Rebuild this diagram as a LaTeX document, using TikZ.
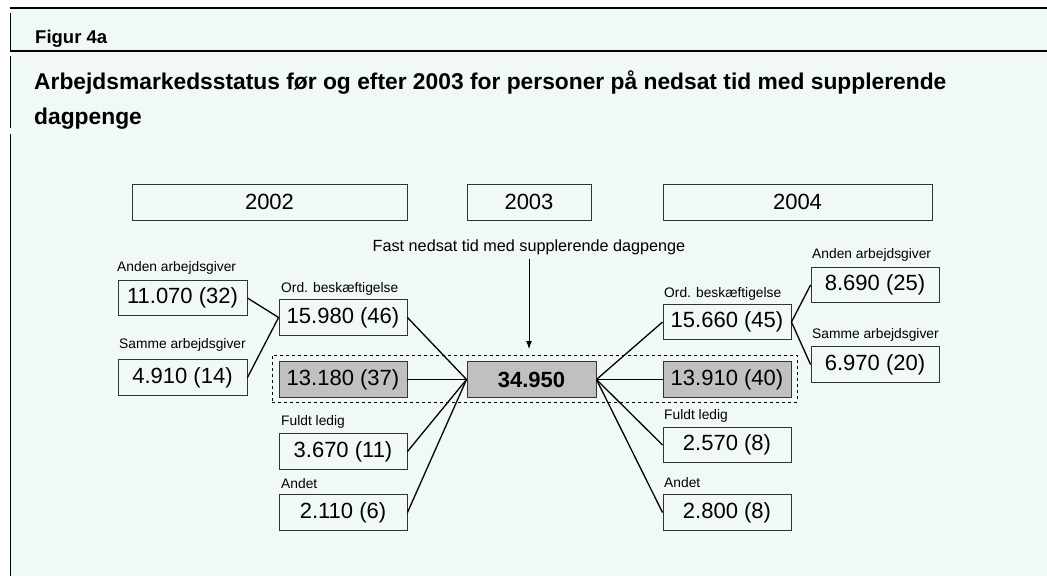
\documentclass[tikz,border=0pt]{standalone}
\usepackage{fontspec}
\setmainfont{Liberation Sans}
\usetikzlibrary{arrows.meta}
\definecolor{mint}{RGB}{241,249,246}
\definecolor{boxgray}{RGB}{192,192,192}
\tikzset{
  numbox/.style={draw=black!80, line width=0.9pt, minimum width=128pt, minimum height=35.5pt,
    inner sep=0pt, font=\fontsize{22}{26}\selectfont},
  graybox/.style={numbox, fill=boxgray},
  yearbox/.style={numbox, minimum height=36pt},
  smalllabel/.style={anchor=west, inner sep=0pt, font=\fontsize{13.8}{16}\selectfont},
  titletext/.style={anchor=base west, inner sep=0pt, font=\bfseries\fontsize{22.8}{26}\selectfont},
  conn/.style={line width=1.3pt, black},
  rule/.style={line width=1.4pt, black},
}
\begin{document}
\begin{tikzpicture}[x=1pt,y=-1pt]
\useasboundingbox (0,0) rectangle (1047,576);
\fill[white] (0,0) rectangle (1047,576);
\fill[mint] (10.5,8) rectangle (1047,576);
% frame rules
\draw[rule] (10,8) -- (1047,8);
\draw[rule] (10,51) -- (1047,51);
\draw[rule] (10.5,13) -- (10.5,51);
\draw[rule] (10.5,56) -- (10.5,128);
\draw[rule] (10.5,134) -- (10.5,576);
% titles
\node[anchor=base west, inner sep=0pt, font=\bfseries\fontsize{18.5}{22}\selectfont] (fig) at (35,43) {Figur 4a};
\node[titletext] (title1) at (34,89) {Arbejdsmarkedsstatus før og efter 2003 for personer på nedsat tid med supplerende};
\node[titletext] (title2) at (34,124) {dagpenge};
% years
\node[yearbox, minimum width=275pt] (y2002) at (269.5,202) {2002};
\node[yearbox, minimum width=124pt] (y2003) at (529,202) {2003};
\node[yearbox, minimum width=269pt] (y2004) at (797.5,202) {2004};
% top caption and arrow
\node[inner sep=0pt, font=\fontsize{16.2}{19}\selectfont] (fast) at (529,247) {Fast nedsat tid med supplerende dagpenge};
\coordinate (arrend) at (529,349);
\draw[line width=1pt, -{Latex[length=8pt,width=6pt]}] (529,259) -- (arrend);
% dashed group
\node[draw, dashed, line width=0.8pt, minimum width=525pt, minimum height=47pt, inner sep=0pt] (grp) at (534.5,378.5) {};
% center
\node[graybox, minimum width=129pt, font=\bfseries\fontsize{22}{26}\selectfont] (center) at (531.5,379.5) {34.950};
% left side
\node[numbox, minimum width=129pt] (la) at (182.5,298) {11.070 (32)};
\node[numbox, minimum width=129pt] (ls) at (182.5,377.5) {4.910 (14)};
\node[numbox] (lord) at (343,317.5) {15.980 (46)};
\node[graybox] (lsame) at (343,379.5) {13.180 (37)};
\node[numbox] (lful) at (343,451.5) {3.670 (11)};
\node[numbox] (land) at (343,512.5) {2.110 (6)};
\node[smalllabel] (tla) at (117,268) {Anden arbejdsgiver};
\node[smalllabel] (tls) at (119,345) {Samme arbejdsgiver};
\node[smalllabel] (tlord) at (281,289) {Ord. beskæftigelse};
\node[smalllabel] (tlful) at (281,422) {Fuldt ledig};
\node[smalllabel] (tland) at (281,484) {Andet};
% right side
\node[numbox] (rord) at (727,322) {15.660 (45)};
\node[graybox] (rsame) at (727,379.5) {13.910 (40)};
\node[numbox] (rful) at (727,445) {2.570 (8)};
\node[numbox] (rand) at (727,512.5) {2.800 (8)};
\node[numbox] (ra) at (875,285) {8.690 (25)};
\node[numbox] (rs) at (875,364.5) {6.970 (20)};
\node[smalllabel] (trord) at (664,294) {Ord. beskæftigelse};
\node[smalllabel] (trful) at (664,416) {Fuldt ledig};
\node[smalllabel] (trand) at (664,483) {Andet};
\node[smalllabel] (tra) at (812,255) {Anden arbejdsgiver};
\node[smalllabel] (trs) at (812,335) {Samme arbejdsgiver};
% connectors
\draw[conn] (la.east) -- (lord.west);
\draw[conn] (ls.east) -- (lord.west);
\draw[conn] (lord.east) -- (center.west);
\draw[conn] (lsame.east) -- (center.west);
\draw[conn] (lful.east) -- (center.west);
\draw[conn] (land.east) -- (center.west);
\draw[conn] (center.east) -- (rord.west);
\draw[conn] (center.east) -- (rsame.west);
\draw[conn] (center.east) -- (rful.west);
\draw[conn] (center.east) -- (rand.west);
\draw[conn] (rord.east) -- (ra.west);
\draw[conn] (rord.east) -- (rs.west);
\end{tikzpicture}
\end{document}
